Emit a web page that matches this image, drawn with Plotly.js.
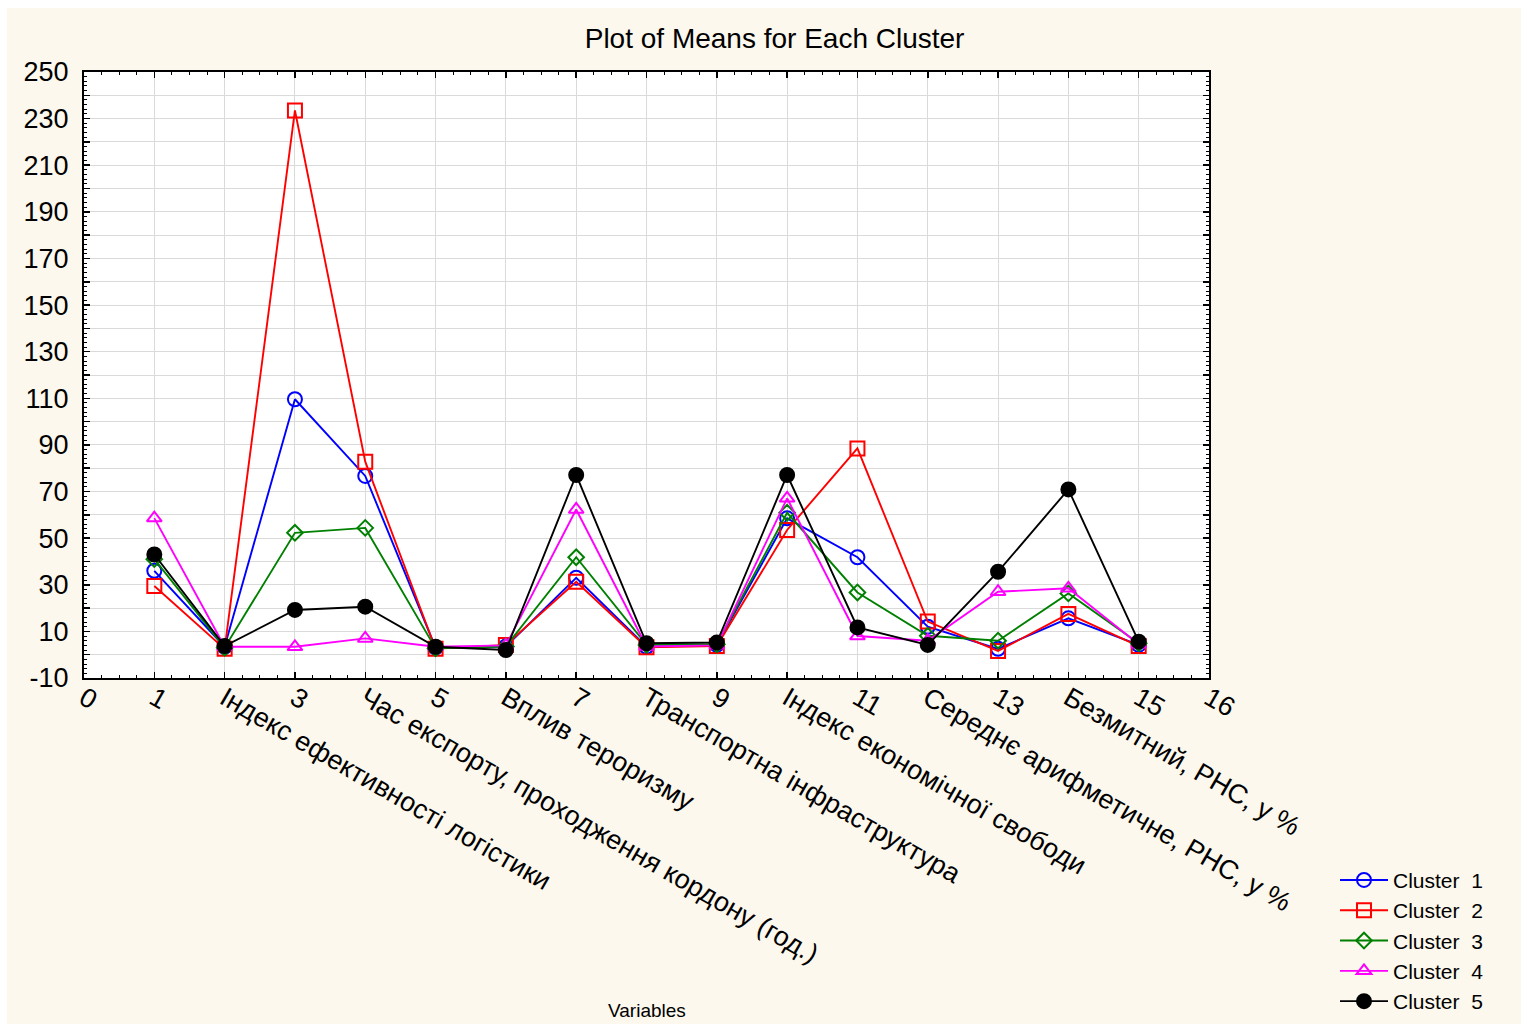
<!DOCTYPE html>
<html>
<head>
<meta charset="utf-8">
<script src="https://cdn.plot.ly/plotly-3.0.1.min.js"></script>
<style>
  html, body { margin: 0; padding: 0; background: #ffffff; width: 1521px; height: 1024px; overflow: hidden; }
  #chart { position: absolute; left: 7px; top: 8px; width: 1514px; height: 1016px; }
</style>
</head>
<body>
<div id="chart"></div>
<script>
// Variable positions and tick labels
const xPositions = [1, 2, 3, 4, 5, 6, 7, 8, 9, 10, 11, 12, 13, 14, 15];
const xTickVals = [0, 1, 2, 3, 4, 5, 6, 7, 8, 9, 10, 11, 12, 13, 14, 15, 16];
const xTickText = ["0", "1", "Індекс ефективності логістики", "3",
  "Час експорту, проходження кордону (год.)", "5", "Вплив тероризму", "7",
  "Транспортна інфраструктура", "9", "Індекс економічної свободи", "11",
  "Середнє арифметичне, РНС, у %", "13", "Безмитний, РНС, у %", "15", "16"];
const yTickVals = [-10, 0, 10, 20, 30, 40, 50, 60, 70, 80, 90, 100, 110, 120, 130, 140, 150, 160, 170, 180, 190, 200, 210, 220, 230, 240, 250];
const yTickText = ["-10", "", "10", "", "30", "", "50", "", "70", "", "90", "", "110", "", "130", "", "150", "", "170", "", "190", "", "210", "", "230", "", "250"];

// Cluster means
const cluster1 = [36, 3.4, 109.6, 76.7, 3, 3.5, 33, 3.4, 4.2, 58.5, 41.8, 12, 2.5, 15.6, 4.2];
const cluster2 = [29.5, 2.5, 233.5, 82.8, 2.5, 4.2, 31.3, 3.2, 3.7, 53.5, 88.5, 14.2, 1.6, 17.5, 3.7];
const cluster3 = [41, 3, 52.3, 54.4, 2.7, 3.5, 41.8, 4.2, 4.5, 60.9, 26.7, 8.1, 6, 26.3, 4.9];
const cluster4 = [58.6, 3.4, 3.4, 7, 3.4, 4, 62.3, 3.5, 4, 67.1, 8, 6, 27, 28.5, 4.5];
const cluster5 = [43, 3.7, 19.2, 20.6, 3.4, 2, 77.1, 4.9, 5.2, 77.1, 11.7, 4.2, 35.6, 70.9, 5.6];

const seriesNames = ["Cluster\u00a0\u00a01", "Cluster\u00a0\u00a02", "Cluster\u00a0\u00a03", "Cluster\u00a0\u00a04", "Cluster\u00a0\u00a05"];
const seriesColors = ["#0000ff", "#ff0000", "#008000", "#ff00ff", "#000000"];
const seriesSymbols = ["circle-open", "square-open", "diamond-open", "triangle-up-open", "circle"];
const seriesSizes = [14, 14, 12, 13, 14];
const seriesValues = [cluster1, cluster2, cluster3, cluster4, cluster5];

const traces = seriesValues.map((vals, i) => ({
  type: "scatter",
  mode: "lines+markers",
  x: xPositions,
  y: vals,
  name: seriesNames[i],
  line: { color: seriesColors[i], width: 1.9 },
  marker: { symbol: seriesSymbols[i], size: seriesSizes[i], color: seriesColors[i],
            line: { color: seriesColors[i], width: 2 } }
}));

const fontFam = "Liberation Sans, Arial, sans-serif";

const layout = {
  width: 1514,
  height: 1016,
  paper_bgcolor: "#fdf8ed",
  plot_bgcolor: "#ffffff",
  margin: { l: 77, r: 312, t: 64, b: 346, pad: 0, autoexpand: false },
  showlegend: true,
  title: {
    text: "Plot of Means for Each Cluster",
    font: { family: fontFam, size: 28, color: "#000000" },
    xref: "container", x: 0.507, xanchor: "center",
    yref: "container", y: 0.970, yanchor: "middle"
  },
  xaxis: {
    range: [0, 16],
    automargin: false,
    tickmode: "array",
    tickvals: xTickVals,
    ticktext: xTickText,
    tickangle: 30,
    ticklabelstandoff: -8,
    tickfont: { family: fontFam, size: 27, color: "#000000" },
    ticks: "inside",
    ticklen: 6,
    tickwidth: 1.5,
    tickcolor: "#000000",
    minor: { dtick: 0.25, ticks: "inside", ticklen: 3, tickwidth: 1, tickcolor: "#000000", showgrid: false },
    showgrid: true,
    gridcolor: "#dadada",
    gridwidth: 1,
    zeroline: false,
    showline: true,
    linecolor: "#000000",
    linewidth: 2,
    mirror: "ticks",
    fixedrange: true
  },
  yaxis: {
    range: [-10, 250],
    automargin: false,
    tickmode: "array",
    tickvals: yTickVals,
    ticktext: yTickText,
    ticklabelstandoff: 8,
    tickfont: { family: fontFam, size: 27, color: "#000000" },
    ticks: "inside",
    ticklen: 6,
    tickwidth: 1.5,
    tickcolor: "#000000",
    minor: { dtick: 2, ticks: "inside", ticklen: 3, tickwidth: 1, tickcolor: "#000000", showgrid: false },
    showgrid: true,
    gridcolor: "#dadada",
    gridwidth: 1,
    zeroline: false,
    showline: true,
    linecolor: "#000000",
    linewidth: 2,
    mirror: "ticks",
    fixedrange: true
  },
  legend: {
    x: 1.112, xanchor: "left",
    y: -0.30, yanchor: "top",
    bgcolor: "rgba(0,0,0,0)",
    borderwidth: 0,
    font: { family: fontFam, size: 21, color: "#000000" },
    itemwidth: 48,
    tracegroupgap: 0
  },
  annotations: [{
    text: "Variables",
    xref: "paper", x: 0.5, xanchor: "center",
    yref: "paper", y: -0.548, yanchor: "middle",
    showarrow: false,
    font: { family: fontFam, size: 19, color: "#000000" }
  }]
};

Plotly.newPlot("chart", traces, layout, { displayModeBar: false, staticPlot: true });
</script>
</body>
</html>
